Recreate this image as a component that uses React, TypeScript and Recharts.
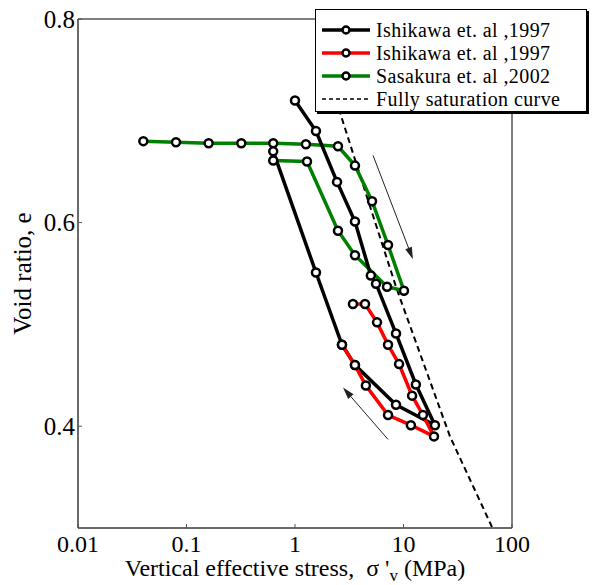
import { LineChart, Line, XAxis, YAxis, Legend, ReferenceLine, ReferenceArea } from 'recharts';

// Ishikawa et al. 1997 (black): loading from ~1 MPa, then unloading back
const blackStress = [1.0, 1.56, 2.44, 3.57, 5.0, 5.58, 8.53, 13.0, 19.5, 8.53, 3.57, 2.71, 1.56, 0.63];
const blackVoid = [0.72, 0.69, 0.64, 0.601, 0.548, 0.54, 0.491, 0.441, 0.401, 0.421, 0.46, 0.48, 0.551, 0.67];

// Ishikawa et al. 1997 (red): reloading loop
const redStress = [3.42, 4.42, 5.7, 7.2, 9.1, 12.0, 15.1, 19.1, 11.7, 7.2, 4.5, 3.57, 2.71];
const redVoid = [0.52, 0.52, 0.502, 0.48, 0.461, 0.43, 0.411, 0.39, 0.401, 0.411, 0.44, 0.46, 0.48];

// Sasakura et al. 2002 (green)
const greenStress = [0.04, 0.08, 0.16, 0.32, 0.63, 1.26, 2.49, 3.57, 5.13, 7.2, 10.1, 7.05, 3.57, 2.49, 1.29, 0.63];
const greenVoid = [0.68, 0.679, 0.678, 0.678, 0.678, 0.677, 0.675, 0.656, 0.621, 0.578, 0.533, 0.537, 0.568, 0.592, 0.66, 0.661];

// fully saturation curve
const satStress = [2.1, 2.6, 4.61, 8.71, 26.8, 65.4];
const satVoid = [0.74, 0.708, 0.625, 0.534, 0.39, 0.301];

// annotation arrows [from, to]
const loadArrow = [{ x: 5.24, y: 0.666 }, { x: 12.2, y: 0.564 }];
const unloadArrow = [{ x: 7.2, y: 0.387 }, { x: 2.77, y: 0.438 }];

const xTicks = [0.01, 0.1, 1, 10, 100];
const xTickLabels = ['0.01', '0.1', '1', '10', '100'];
const yTicks = [0.4, 0.6, 0.8];

const toPoints = (xs: number[], ys: number[]) => xs.map((x, i) => ({ x, y: ys[i] }));

const series = [
  { name: 'Ishikawa et. al ,1997', color: '#000000', data: toPoints(blackStress, blackVoid) },
  { name: 'Ishikawa et. al ,1997', color: '#ff0000', data: toPoints(redStress, redVoid) },
  { name: 'Sasakura et. al ,2002', color: '#008000', data: toPoints(greenStress, greenVoid) },
];
const satName = 'Fully saturation curve';

const FONT = '"Liberation Serif", "Times New Roman", serif';
const dotStyle = { r: 4, stroke: '#000', strokeWidth: 2.5, fill: '#fff' };

function Arrow(props: any) {
  const { x1, y1, x2, y2 } = props;
  const ang = Math.atan2(y2 - y1, x2 - x1);
  const len = 12;
  const half = 3.5;
  const bx = x2 - len * Math.cos(ang);
  const by = y2 - len * Math.sin(ang);
  const px = -Math.sin(ang) * half;
  const py = Math.cos(ang) * half;
  return (
    <g>
      <line x1={x1} y1={y1} x2={bx} y2={by} stroke="#222" strokeWidth={1} />
      <polygon points={`${x2},${y2} ${bx + px},${by + py} ${bx - px},${by - py}`} fill="#222" />
    </g>
  );
}

function LegendBox() {
  const rows = [
    ...series.map((s) => ({ name: s.name, color: s.color, dashed: false })),
    { name: satName, color: '#000', dashed: true },
  ];
  const rowY = [20, 43, 66, 89];
  return (
    <div
      style={{
        position: 'relative',
        width: 272,
        height: 103,
        background: '#fff',
        border: '1px solid #000',
        boxShadow: '2px 2px 0 #000',
        boxSizing: 'border-box',
        fontFamily: FONT,
        fontSize: 20,
        color: '#000',
      }}
    >
      {rows.map((r, i) => (
        <div key={i} style={{ position: 'absolute', left: 0, top: rowY[i] - 10, height: 20, display: 'flex', alignItems: 'center', whiteSpace: 'nowrap' }}>
          <svg width={60} height={20} style={{ display: 'block' }}>
            <line x1={6} y1={10} x2={54} y2={10} stroke={r.color} strokeWidth={r.dashed ? 1.5 : 3.5} strokeDasharray={r.dashed ? '4 3' : undefined} />
            {!r.dashed && <circle cx={30} cy={10} r={3.5} stroke="#000" strokeWidth={2.5} fill="#fff" />}
          </svg>
          <span style={{ display: 'inline-block', lineHeight: '20px', height: 20, letterSpacing: 0.4 }}>{r.name}</span>
        </div>
      ))}
    </div>
  );
}

export default function App() {
  return (
    <div style={{ position: 'absolute', left: 0, top: 0, background: '#fff' }}>
      <LineChart width={592} height={585} margin={{ top: 19, right: 80, bottom: 7, left: 18 }}>
        <ReferenceArea x1={0.01} x2={100} y1={0.3} y2={0.8} fill="none" stroke="#000" strokeWidth={1} />
        <XAxis
          dataKey="x"
          type="number"
          scale="log"
          domain={[0.01, 100]}
          allowDataOverflow
          ticks={xTicks}
          interval={0}
          tickFormatter={(v: number) => xTickLabels[xTicks.indexOf(v)] ?? String(v)}
          height={50}
          tickSize={-4}
          tickMargin={11}
          stroke="#555"
          tick={{ fill: '#000', fontSize: 24, fontFamily: FONT }}
          label={{
            content: ({ viewBox }: any) => (
              <text
                x={viewBox.x + viewBox.width / 2}
                y={viewBox.y + 48}
                textAnchor="middle"
                fontSize={24}
                fontFamily={FONT}
                fill="#000"
              >
                Vertical effective stress,{'\u00a0\u00a0'}σ '
                <tspan fontSize={17} dy={5}>v</tspan>
                <tspan dy={-5}>{'\u00a0'}(MPa)</tspan>
              </text>
            ),
          }}
        />
        <YAxis
          dataKey="y"
          type="number"
          domain={[0.3, 0.8]}
          allowDataOverflow
          ticks={yTicks}
          interval={0}
          tickFormatter={(v: number) => v.toFixed(1)}
          width={60}
          tickSize={-4}
          tickMargin={7}
          stroke="#555"
          tick={{ fill: '#000', fontSize: 25, fontFamily: FONT }}
          label={{
            content: ({ viewBox }: any) => (
              <text
                x={31}
                y={viewBox.y + viewBox.height / 2}
                transform={`rotate(-90, 31, ${viewBox.y + viewBox.height / 2})`}
                textAnchor="middle"
                fontSize={25}
                fontFamily={FONT}
                fill="#000"
              >
                Void ratio, e
              </text>
            ),
          }}
        />
        <Line
          data={toPoints(satStress, satVoid)}
          dataKey="y"
          name={satName}
          type="linear"
          stroke="#000"
          strokeWidth={2}
          strokeDasharray="6 4"
          dot={false}
          isAnimationActive={false}
        />
        <Line
          data={series[2].data}
          dataKey="y"
          name={series[2].name}
          type="linear"
          stroke={series[2].color}
          strokeWidth={3.5}
          dot={dotStyle}
          isAnimationActive={false}
        />
        <Line
          data={series[0].data}
          dataKey="y"
          name={series[0].name}
          type="linear"
          stroke={series[0].color}
          strokeWidth={3.5}
          dot={dotStyle}
          isAnimationActive={false}
        />
        <Line
          data={series[1].data}
          dataKey="y"
          name={series[1].name}
          type="linear"
          stroke={series[1].color}
          strokeWidth={3.5}
          dot={dotStyle}
          isAnimationActive={false}
        />
        <ReferenceLine segment={loadArrow} shape={Arrow} ifOverflow="visible" />
        <ReferenceLine segment={unloadArrow} shape={Arrow} ifOverflow="visible" />
        <Legend
          layout="vertical"
          align="center"
          verticalAlign="middle"
          wrapperStyle={{ left: 315, top: 9, width: 272, height: 103 }}
          content={() => <LegendBox />}
        />
      </LineChart>
    </div>
  );
}
